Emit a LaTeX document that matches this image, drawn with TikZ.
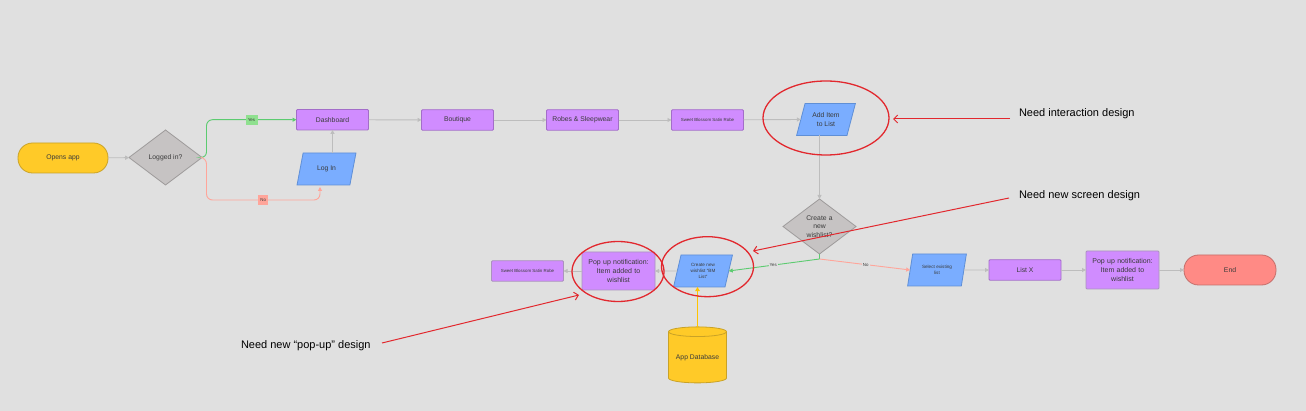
\documentclass[tikz,border=0pt]{standalone}
\usepackage{fontspec}
\setmainfont{Liberation Sans}
\usetikzlibrary{shapes.geometric,arrows.meta}
\definecolor{bgc}{HTML}{E0E0E0}
\definecolor{yel}{HTML}{FFCA28}
\definecolor{yell}{HTML}{FFC400}
\definecolor{yeld}{HTML}{C9A227}
\definecolor{pur}{HTML}{D08CFF}
\definecolor{purd}{HTML}{A36DC9}
\definecolor{popd}{HTML}{AB92BE}
\definecolor{blu}{HTML}{7AADFF}
\definecolor{blud}{HTML}{5F8FD6}
\definecolor{gry}{HTML}{C6C3C3}
\definecolor{gryd}{HTML}{9E9B9B}
\definecolor{lin}{HTML}{BDBDBD}
\definecolor{grn}{HTML}{5CCB70}
\definecolor{grnl}{HTML}{8FE08F}
\definecolor{sal}{HTML}{FFA59A}
\definecolor{endf}{HTML}{FF8A85}
\definecolor{endd}{HTML}{C46E6A}
\definecolor{rd}{HTML}{E2282E}
\definecolor{txt}{HTML}{3A3A3A}
\tikzset{
  x=1pt,y=-1pt,
  base/.style={inner sep=0pt,outer sep=0pt,align=center,text=txt,line width=0.8pt},
  ft/.style={font=\fontsize{#1}{8.6}\selectfont},
  sm/.style={font=\fontsize{#1}{6.4}\selectfont},
  pbox/.style={base,draw=purd,fill=pur,rounded corners=1pt,minimum width=72pt,minimum height=20.5pt,ft=6.8},
  pop/.style={pbox,draw=popd,minimum width=73pt,minimum height=38pt,text width=68pt,ft=7},
  para/.style={base,trapezium,trapezium left angle=68,trapezium right angle=112,trapezium stretches=true,draw=blud,fill=blu,minimum height=32pt,minimum width=59pt,ft=6.8},
  dia/.style={base,diamond,draw=gryd,fill=gry,minimum width=73pt,minimum height=55pt,aspect=1.33,ft=6.8},
  term/.style={base,rounded corners=14.5pt,minimum height=30pt,ft=6.8},
  flow/.style={draw=lin,line width=0.9pt,-{Triangle[length=4pt,width=4pt]}},
  gflow/.style={draw=grn,line width=0.9pt,-{Triangle[length=4pt,width=4pt]}},
  sflow/.style={draw=sal,line width=0.9pt,-{Triangle[length=4pt,width=4pt]}},
  yflow/.style={draw=yell,line width=1.5pt,-{Triangle[length=4pt,width=4.5pt]}},
  ring/.style={base,ellipse,draw=rd,line width=1.3pt},
  note/.style={base,anchor=west,text=black,font=\fontsize{11}{13}\selectfont},
  redarrow/.style={draw=rd,line width=1pt,-{Straight Barb[length=4pt,width=8pt]}},
  tiny/.style={base,sm=4.4},
  tag/.style={base,sharp corners,minimum height=10pt,sm=4.4},
}
\begin{document}
\begin{tikzpicture}
\useasboundingbox[fill=bgc] (0,0) rectangle (1306,411);
% yellow cylinder first, below the shape it points to
\node[base,cylinder,shape border rotate=90,aspect=0.224,draw=yeld,fill=yel,minimum width=58pt,minimum height=56pt,ft=6.8] (db) at (697.5,357.5) {App Database};
% nodes
\node[term,draw=yeld,fill=yel,minimum width=90pt] (open) at (63,158) {Opens app};
\node[dia] (log) at (165.5,157.5) {Logged in?};
\node[pbox] (dash) at (332.5,119.7) {Dashboard};
\node[para] (login) at (326.5,169) {Log In};
\node[pbox] (bout) at (457.5,120) {Boutique};
\node[pbox] (robe) at (582.5,120) {Robes \& Sleepwear};
\node[pbox,sm=4.4] (sweet) at (707.5,120) {Sweet Blossom Satin Robe};
\node[para] (add) at (826,119.5) {Add Item\\to List};
\node[dia,text width=30pt] (wish) at (819.5,226.5) {Create a\\new\\wishlist?};
\node[para,sm=4.6,text width=38pt] (sel) at (937,270) {Select existing\\list};
\node[pbox] (listx) at (1025,270) {List X};
\node[pop] (pop3) at (1122.5,270) {Pop up notification:\\Item added to\\wishlist};
\node[term,draw=endd,fill=endf,minimum width=92pt] (end) at (1230,270) {End};
\node[para,sm=4.6,text width=38pt] (create) at (703,271) {Create new\\wishlist ``BM\\List''};
\node[pop] (pop1) at (618.5,271) {Pop up notification:\\Item added to\\wishlist};
\node[pbox,draw=popd,sm=4.4] (sweet2) at (527.5,271) {Sweet Blossom Satin Robe};
% junctions
\coordinate (gj) at (206.5,158);
\coordinate (nt) at (320,187);
\coordinate (wj) at (819.5,259);
% flows
\draw[flow] (open) -- (log);
\draw[gflow,rounded corners=6pt] (log.east) -- (gj) -- (gj|-dash.west) -- node[tag,fill=grnl,minimum width=12pt] (yes1) {Yes} (dash.west);
\draw[sflow,rounded corners=6pt] (log.east) -- (gj) -- (gj|-0,200) -- node[tag,fill=sal,minimum width=10pt] (no1) {No} (nt|-0,200) -- (nt);
\draw[flow] (login.north-|dash.south) -- (dash.south);
\draw[flow] (dash) -- (bout);
\draw[flow] (bout) -- (robe);
\draw[flow] (robe) -- (sweet);
\draw[flow] (sweet) -- (add.west);
\draw[flow] (add.south-|wish.north) -- (wish.north);
\draw[draw=grn,line width=0.9pt] (wish.south) -- (wj);
\draw[gflow] (wj) -- node[tiny,fill=bgc,inner sep=1pt,pos=0.51] (yes2) {Yes} (create.east);
\draw[sflow] (wj) -- node[tiny,fill=bgc,inner sep=1pt,pos=0.51] (no2) {No} (sel.west);
\draw[flow] (sel) -- (listx);
\draw[flow] (listx) -- (pop3);
\draw[flow] (pop3) -- (end);
\draw[flow] (create) -- (pop1);
\draw[flow] (pop1) -- (sweet2);
\draw[yflow] (db.north) -- (create.south-|db.north);
% annotations
\node[ring,minimum width=126pt,minimum height=74pt] (r1) at (826,118) {};
\node[ring,minimum width=92pt,minimum height=60pt] (r2) at (707.5,266.7) {};
\node[ring,minimum width=92pt,minimum height=60pt] (r3) at (618,271.5) {};
\node[note] (n1) at (1019,113.5) {Need interaction design};
\node[note] (n2) at (1019,196) {Need new screen design};
\node[note] (n3) at (241,345.5) {Need new “pop-up” design};
\coordinate (s1) at (1010,119);
\coordinate (t1) at (893,119);
\coordinate (s2) at (1009,198);
\coordinate (t2) at (753,251);
\coordinate (s3) at (382,343);
\coordinate (t3) at (579,295);
\draw[redarrow] (s1) -- (t1);
\draw[redarrow] (s2) -- (t2);
\draw[redarrow] (s3) -- (t3);
\end{tikzpicture}
\end{document}
